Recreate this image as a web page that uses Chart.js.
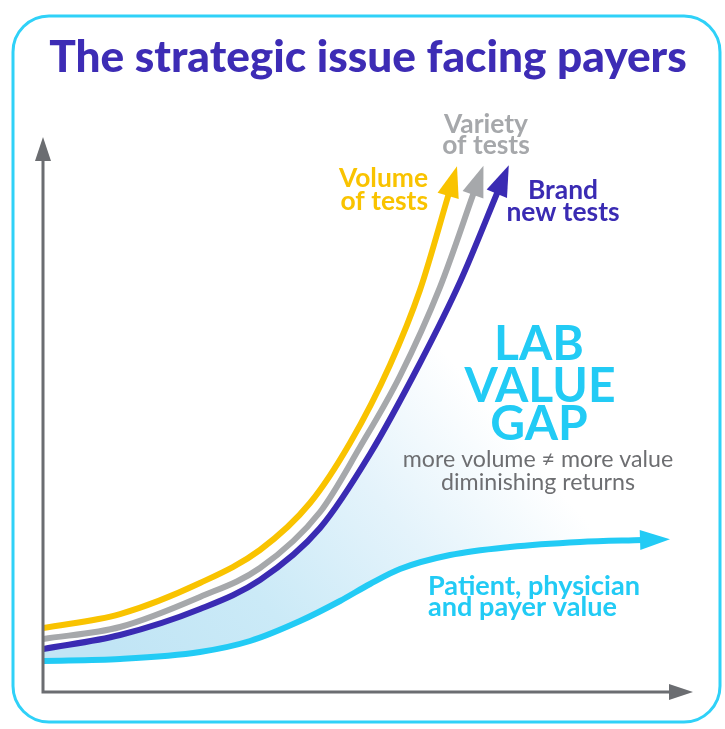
<!DOCTYPE html>
<html>
<head>
<meta charset="utf-8">
<title>The strategic issue facing payers</title>
<style>
  html, body { margin: 0; padding: 0; background: #fff; }
  #wrap { width: 725px; height: 729px; }
</style>
</head>
<body>
<script src="https://cdn.jsdelivr.net/npm/chart.js"></script>
<div id="wrap"><canvas id="myChart" width="725" height="729"></canvas></div>

<script>
// curves: x = time, y = amount, both on a 0..100 scale
var volumeX = [0, 11.85, 24.15, 33.38, 41.08, 47.23, 53.38, 58.0, 62.46];
var volumeY = [11.53, 14.05, 19.64, 25.59, 34.05, 44.86, 58.92, 72.43, 89.91];

var varietyX = [0, 11.85, 24.15, 33.38, 42.62, 48.77, 54.92, 61.08, 66.31];
var varietyY = [9.55, 11.71, 17.12, 22.34, 32.43, 44.14, 56.94, 72.97, 90.09];

var brandNewX = [0, 11.85, 24.15, 33.38, 42.62, 50.31, 58.0, 64.15, 70.0];
var brandNewY = [7.75, 10.27, 14.95, 20.18, 29.55, 42.88, 59.28, 73.87, 90.27];

var valueX = [0, 11.85, 24.15, 31.85, 39.54, 45.69, 50.31, 54.92, 62.62, 71.85, 82.62, 92.31];
var valueY = [5.59, 5.95, 7.21, 9.19, 12.79, 16.40, 19.46, 22.16, 24.68, 26.13, 27.03, 27.39];

var seriesNames = ['Volume of tests', 'Variety of tests', 'Brand new tests', 'Patient, physician and payer value'];
var titleText = 'The strategic issue facing payers';
var gapLines = ['LAB', 'VALUE', 'GAP'];
var gapNotes = ['more volume \u2260 more value', 'diminishing returns'];

var YELLOW = '#f9c300', GREY = '#a6a8ab', INDIGO = '#3a2bb3', CYAN = '#22cbf5', AXIS = '#6b6d71';

function pts(xs, ys) {
  return xs.map(function (x, i) { return { x: x, y: ys[i] }; });
}

function arrowHead(ctx, x, y, dx, dy, len, half, color) {
  var m = Math.hypot(dx, dy);
  dx /= m; dy /= m;
  var bx = x - dx * 3, by = y - dy * 3;
  ctx.beginPath();
  ctx.moveTo(x + dx * len, y + dy * len);
  ctx.lineTo(bx - dy * half, by + dx * half);
  ctx.lineTo(bx + dy * half, by - dx * half);
  ctx.closePath();
  ctx.fillStyle = color;
  ctx.fill();
}

function fitFont(ctx, text, width, weight, family) {
  ctx.font = weight + ' 100px ' + family;
  var s = 100 * width / ctx.measureText(text).width;
  return weight + ' ' + s.toFixed(1) + 'px ' + family;
}

var frameAndAxes = {
  id: 'frameAndAxes',
  // shaded gap between the "brand new tests" curve and the value curve
  beforeDatasetsDraw: function (chart) {
    var ctx = chart.ctx, a = chart.chartArea;
    var upper = chart.getDatasetMeta(2).dataset;
    var lower = chart.getDatasetMeta(3).dataset;
    upper.updateControlPoints(a, 'x');
    lower.updateControlPoints(a, 'x');
    var up = upper.points[upper.points.length - 1];
    var lp = lower.points[lower.points.length - 1];

    ctx.save();
    ctx.beginPath();
    upper.path(ctx);
    ctx.lineTo(a.right, up.y);
    ctx.lineTo(a.right, a.bottom);
    ctx.lineTo(a.left, a.bottom);
    ctx.closePath();
    ctx.clip();

    ctx.beginPath();
    lower.path(ctx);
    ctx.lineTo(a.right, lp.y);
    ctx.lineTo(a.right, a.top);
    ctx.lineTo(a.left, a.top);
    ctx.closePath();
    var g = ctx.createLinearGradient(a.left + 107, a.bottom, a.left + 477, a.bottom - 310);
    g.addColorStop(0, 'rgb(193,229,245)');
    g.addColorStop(0.3, 'rgb(203,234,247)');
    g.addColorStop(0.62, 'rgb(228,243,251)');
    g.addColorStop(0.92, 'rgb(255,255,255)');
    ctx.fillStyle = g;
    ctx.fill();
    ctx.restore();
  },
  afterDatasetsDraw: function (chart) {
    var ctx = chart.ctx;
    var xs = chart.scales.x, ys = chart.scales.y;
    var x0 = xs.getPixelForValue(0), x1 = xs.getPixelForValue(100);
    var y0 = ys.getPixelForValue(0), y1 = ys.getPixelForValue(100);
    ctx.save();
    // arrowheads on the end of each curve
    chart.data.datasets.forEach(function (ds, i) {
      var meta = chart.getDatasetMeta(i);
      var p = meta.data[meta.data.length - 1];
      var q = meta.data[meta.data.length - 2];
      arrowHead(ctx, p.x, p.y, p.x - q.x, p.y - q.y, ds.headLen, ds.headHalf, ds.borderColor);
    });
    // axes
    ctx.strokeStyle = AXIS;
    ctx.lineWidth = 3;
    ctx.beginPath();
    ctx.moveTo(x0, y1 + 18);
    ctx.lineTo(x0, y0);
    ctx.lineTo(x1 - 18, y0);
    ctx.stroke();
    arrowHead(ctx, x0, y1 + 21, 0, -1, 21, 8, AXIS);
    arrowHead(ctx, x1 - 21, y0, 1, 0, 21, 8, AXIS);
    ctx.restore();
  },
  afterDraw: function (chart) {
    var ctx = chart.ctx;
    ctx.save();
    // outer rounded frame
    ctx.strokeStyle = '#2fd1f8';
    ctx.lineWidth = 3;
    ctx.beginPath();
    ctx.roundRect(13, 16, 707, 706, 36);
    ctx.stroke();

    ctx.textBaseline = 'alphabetic';
    ctx.fillStyle = '#3d2cb5';
    ctx.textAlign = 'center';
    ctx.font = fitFont(ctx, titleText, 638, '900', 'Lato');
    ctx.fillText(titleText, 368, 72);

    // series labels
    ctx.font = fitFont(ctx, 'Volume', 89, 'bold', 'Lato');
    ctx.fillStyle = YELLOW;
    ctx.textAlign = 'right';
    ctx.fillText('Volume', 428, 187);
    ctx.fillText('of tests', 428, 210);

    ctx.fillStyle = GREY;
    ctx.textAlign = 'center';
    ctx.fillText('Variety', 486, 133);
    ctx.fillText('of tests', 486, 154);

    ctx.fillStyle = INDIGO;
    ctx.fillText('Brand', 563, 199);
    ctx.fillText('new tests', 563, 221);

    ctx.fillStyle = CYAN;
    ctx.textAlign = 'left';
    ctx.font = fitFont(ctx, 'Patient, physician', 212, 'bold', 'Lato');
    ctx.fillText('Patient, physician', 428, 595);
    ctx.fillText('and payer value', 428, 616);

    // gap annotation
    ctx.textAlign = 'center';
    ctx.font = fitFont(ctx, 'VALUE', 151, 'bold', 'Lato');
    ctx.fillText(gapLines[0], 539, 360);
    ctx.fillText(gapLines[1], 540, 402);
    ctx.fillText(gapLines[2], 539, 440);

    ctx.fillStyle = '#6d6e71';
    ctx.font = fitFont(ctx, gapNotes[0], 270, 'normal', 'Lato');
    ctx.fillText(gapNotes[0], 538, 467);
    ctx.fillText(gapNotes[1], 538, 490);
    ctx.restore();
  }
};

var ctx = document.getElementById('myChart').getContext('2d');

var data = {
  datasets: [{
    label: seriesNames[0],
    data: pts(volumeX, volumeY),
    borderColor: YELLOW,
    headLen: 28,
    headHalf: 11
  }, {
    label: seriesNames[1],
    data: pts(varietyX, varietyY),
    borderColor: GREY,
    headLen: 28,
    headHalf: 11
  }, {
    label: seriesNames[2],
    data: pts(brandNewX, brandNewY),
    borderColor: INDIGO,
    headLen: 28,
    headHalf: 11
  }, {
    label: seriesNames[3],
    data: pts(valueX, valueY),
    borderColor: CYAN,
    headLen: 27,
    headHalf: 10
  }]
};

var myChart = new Chart(ctx, {
  type: 'line',
  data: data,
  plugins: [frameAndAxes],
  options: {
    responsive: false,
    animation: false,
    events: [],
    layout: { padding: { left: 43, right: 32, top: 137, bottom: 37 } },
    elements: {
      point: { radius: 0 },
      line: { cubicInterpolationMode: 'monotone', borderWidth: 6, borderCapStyle: 'butt', fill: false }
    },
    scales: {
      x: { type: 'linear', min: 0, max: 100, display: false },
      y: { type: 'linear', min: 0, max: 100, display: false }
    },
    plugins: {
      legend: { display: false },
      tooltip: { enabled: false },
      title: { display: false }
    }
  }
});
</script>
</body>
</html>
